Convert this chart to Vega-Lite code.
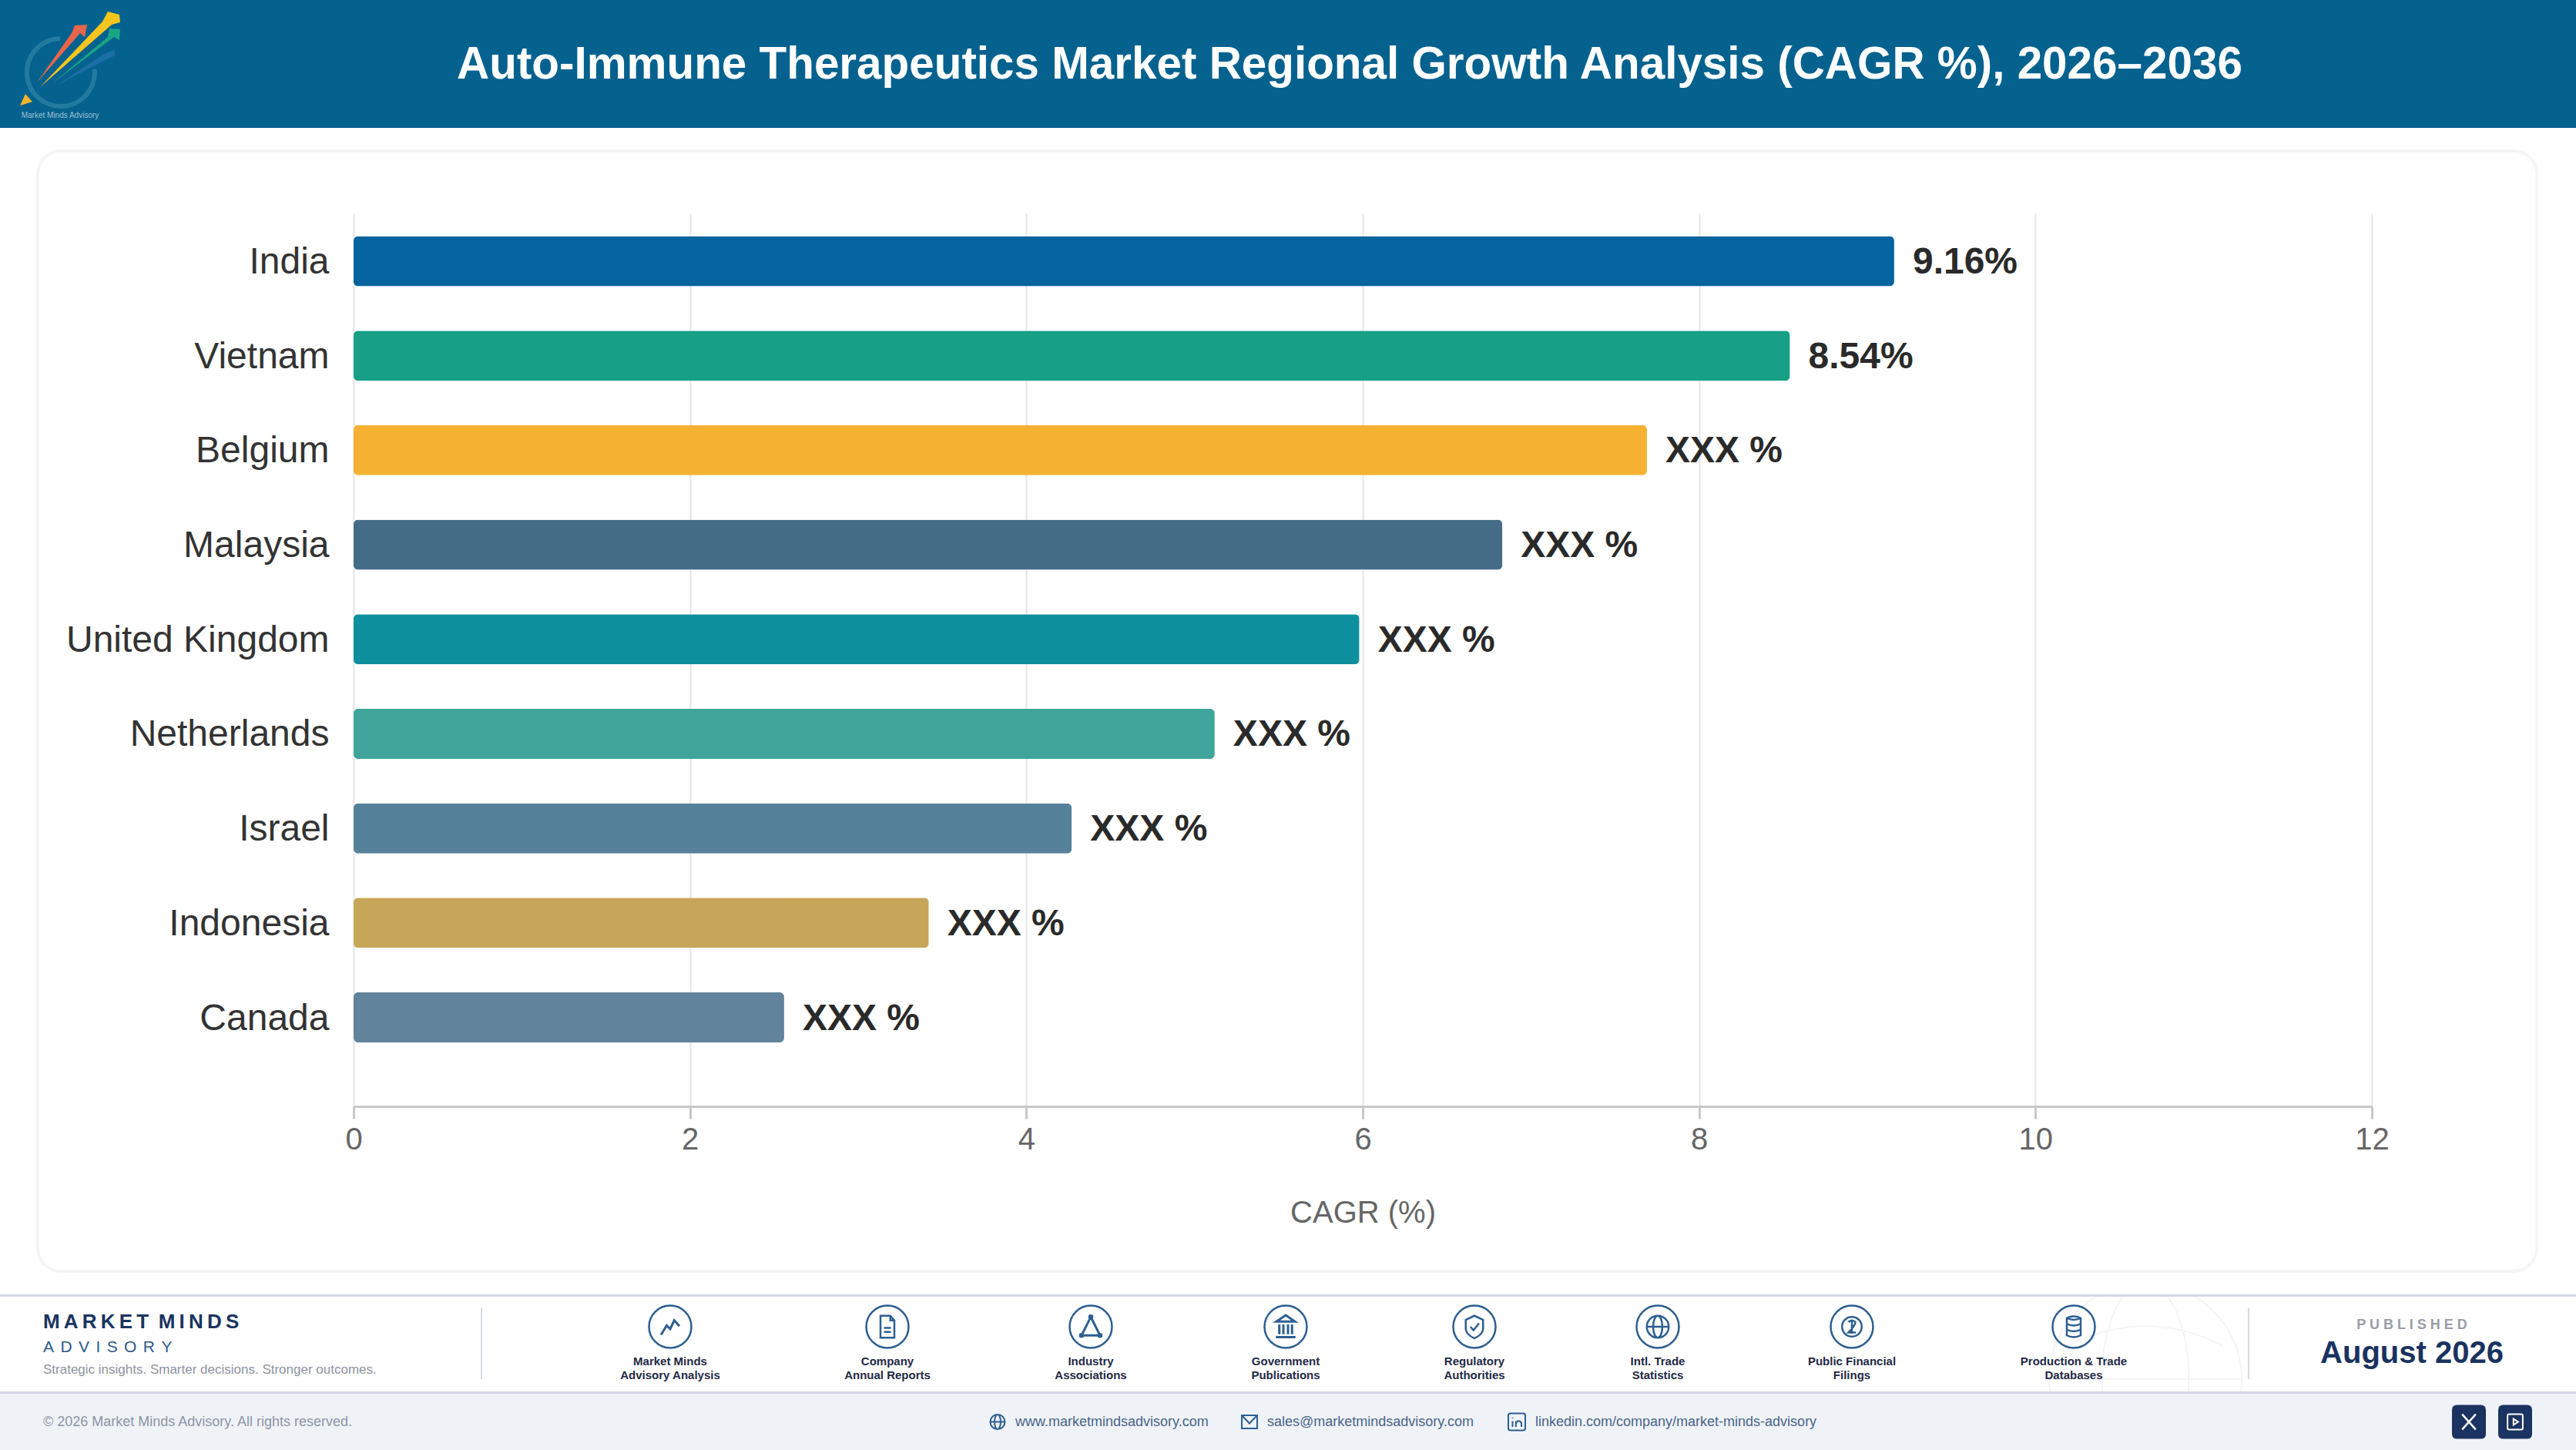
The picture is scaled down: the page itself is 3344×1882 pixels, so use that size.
{
  "$schema": "https://vega.github.io/schema/vega-lite/v6.json",
  "background": "#ffffff",
  "padding": 0,
  "spacing": 0,
  "config": {
    "view": {"stroke": null},
    "font": "Liberation Sans"
  },
  "datasets": {
    "markets": [
      {"country": "India", "cagr": 9.16, "label": "9.16%"},
      {"country": "Vietnam", "cagr": 8.54, "label": "8.54%"},
      {"country": "Belgium", "cagr": 7.69, "label": "XXX %"},
      {"country": "Malaysia", "cagr": 6.83, "label": "XXX %"},
      {"country": "United Kingdom", "cagr": 5.98, "label": "XXX %"},
      {"country": "Netherlands", "cagr": 5.12, "label": "XXX %"},
      {"country": "Israel", "cagr": 4.27, "label": "XXX %"},
      {"country": "Indonesia", "cagr": 3.42, "label": "XXX %"},
      {"country": "Canada", "cagr": 2.56, "label": "XXX %"}
    ],
    "sources": [
      {"column": 2, "line": 3, "source": "Market Minds\nAdvisory Analysis"},
      {"column": 3, "line": 3, "source": "Company\nAnnual Reports"},
      {"column": 4, "line": 3, "source": "Industry\nAssociations"},
      {"column": 5, "line": 3, "source": "Government\nPublications"},
      {"column": 6, "line": 3, "source": "Regulatory\nAuthorities"},
      {"column": 7, "line": 3, "source": "Intl. Trade\nStatistics"},
      {"column": 8, "line": 3, "source": "Public Financial\nFilings"},
      {"column": 9, "line": 3, "source": "Production & Trade\nDatabases"}
    ]
  },
  "vconcat": [
    {
      "width": 3344,
      "height": 166,
      "view": {"fill": "#05628f", "stroke": null},
      "data": {"values": [{"column": 1, "line": 0}]},
      "encoding": {
        "x": {"field": "column", "type": "quantitative", "axis": null, "scale": {"domain": [0, 1, 2], "range": [78, 92, 1752], "zero": false, "nice": false}},
        "y": {"field": "line", "type": "quantitative", "axis": null, "scale": {"domain": [0, 1], "range": [82, 150], "zero": false, "nice": false}}
      },
      "layer": [
        {"mark": {"type": "point", "filled": false, "stroke": "#2f86a6", "strokeWidth": 6, "size": 22500, "shape": "M0.41 0.107 A0.587 0.587 0 1 1 -0.187 -0.427"}},
        {"mark": {"type": "point", "filled": true, "opacity": 1, "fill": "#1c6fa6", "size": 22500, "shape": "M-0.227 0.373 L0.573 -0.16 L0.747 -0.227 L0.773 -0.133 L0.64 -0.08 Z"}},
        {"mark": {"type": "point", "filled": true, "opacity": 1, "fill": "#e8654a", "size": 22500, "shape": "M-0.587 0.333 L0.013 -0.52 L0.067 -0.653 L0.28 -0.667 L0.24 -0.453 L0.16 -0.52 Z"}},
        {"mark": {"type": "point", "filled": true, "opacity": 1, "fill": "#18a585", "size": 22500, "shape": "M-0.32 0.347 L0.64 -0.453 L0.667 -0.6 L0.853 -0.587 L0.84 -0.4 L0.747 -0.453 Z"}},
        {"mark": {"type": "point", "filled": true, "opacity": 1, "fill": "#f7c51e", "size": 22500, "shape": "M-0.533 0.413 L0.547 -0.72 L0.64 -0.893 L0.84 -0.84 L0.853 -0.707 L0.707 -0.667 Z"}},
        {"mark": {"type": "point", "filled": true, "opacity": 1, "fill": "#f7b52c", "size": 22500, "shape": "M-0.787 0.533 L-0.667 0.667 L-0.88 0.733 Z"}},
        {
          "data": {"values": [{"column": 0, "line": 1, "text": "Market Minds Advisory"}]},
          "mark": {"type": "text", "align": "center", "baseline": "middle", "fontSize": 10, "fill": "#9fc0d0"},
          "encoding": {"text": {"field": "text"}}
        },
        {
          "data": {"values": [{"column": 2, "line": 0, "text": "Auto-Immune Therapeutics Market Regional Growth Analysis (CAGR %), 2026–2036"}]},
          "mark": {"type": "text", "align": "center", "baseline": "middle", "dy": 2, "fontSize": 58.4, "fontWeight": "bold", "fill": "#ffffff"},
          "encoding": {"text": {"field": "text"}}
        }
      ]
    },
    {"width": 3344, "height": 28, "data": {"values": []}, "mark": "rule", "encoding": {}},
    {
      "spacing": 0,
      "hconcat": [
        {"width": 47, "height": 10, "data": {"values": []}, "mark": "rule", "encoding": {}},
        {
          "width": 3244,
          "height": 1454,
          "view": {"fill": "#ffffff", "stroke": "#f5f5f7", "strokeWidth": 4, "cornerRadius": 30},
          "data": {"name": "markets"},
          "resolve": {"axis": {"x": "independent"}},
          "encoding": {
            "y": {
              "field": "country",
              "type": "nominal",
              "sort": null,
              "title": null,
              "scale": {"range": [81, 1240], "paddingInner": 0.47, "paddingOuter": 0.458, "align": 0.262},
              "axis": {
                "offset": -410,
                "domain": false,
                "ticks": false,
                "tickSize": 0,
                "grid": false,
                "labelPadding": 32,
                "labelOffset": 2,
                "labelFontSize": 48,
                "labelColor": "#333333",
                "labelLimit": 600
              }
            }
          },
          "layer": [
            {
              "mark": {"type": "bar", "cornerRadius": 6},
              "encoding": {
                "x": {
                  "field": "cagr",
                  "type": "quantitative",
                  "title": "CAGR (%)",
                  "scale": {"domain": [0, 12], "range": [410, 3030], "nice": false},
                  "axis": {
                    "orient": "bottom",
                    "offset": -214,
                    "values": [0, 2, 4, 6, 8, 10, 12],
                    "format": "d",
                    "grid": false,
                    "labelFlush": false,
                    "labelOverlap": false,
                    "labelFontSize": 40,
                    "labelColor": "#666666",
                    "labelPadding": 7,
                    "tickColor": "#c8c8c8",
                    "tickSize": 16,
                    "tickWidth": 3,
                    "domainColor": "#c8c8c8",
                    "domainWidth": 3,
                    "titleFontSize": 40,
                    "titleFontWeight": "normal",
                    "titleColor": "#666666",
                    "titlePadding": 55
                  }
                },
                "color": {
                  "field": "country",
                  "type": "nominal",
                  "legend": null,
                  "scale": {
                    "domain": ["India", "Vietnam", "Belgium", "Malaysia", "United Kingdom", "Netherlands", "Israel", "Indonesia", "Canada"],
                    "range": ["#04649f", "#17a085", "#f5b131", "#456c87", "#0d8f9e", "#3fa59a", "#56819a", "#c7a559", "#61839b"]
                  }
                }
              }
            },
            {
              "mark": {"type": "text", "align": "left", "baseline": "middle", "dx": 24, "dy": 2, "fontSize": 48, "fontWeight": "bold", "fill": "#2a2a2a"},
              "encoding": {
                "x": {
                  "field": "cagr",
                  "type": "quantitative",
                  "title": null,
                  "axis": {
                    "orient": "top",
                    "values": [0, 2, 4, 6, 8, 10, 12],
                    "grid": true,
                    "gridColor": "#e6e6e6",
                    "gridWidth": 2,
                    "domain": false,
                    "ticks": false,
                    "labels": false
                  }
                },
                "text": {"field": "label"}
              }
            }
          ]
        }
      ]
    },
    {"width": 3344, "height": 28, "data": {"values": []}, "mark": "rule", "encoding": {}},
    {"width": 3344, "height": 3, "view": {"fill": "#d4d7e4", "stroke": null}, "data": {"values": []}, "mark": "rule", "encoding": {}},
    {
      "width": 3344,
      "height": 123,
      "view": {"fill": "#ffffff", "stroke": null},
      "encoding": {
        "x": {"field": "column", "type": "quantitative", "axis": null, "scale": {"domain": [0, 1, 2, 3, 4, 5, 6, 7, 8, 9, 10, 11, 12], "range": [56, 625, 870, 1152, 1416, 1669, 1914, 2152, 2404, 2692, 2785, 2919, 3131], "zero": false, "nice": false}},
        "y": {"field": "line", "type": "quantitative", "axis": null, "scale": {"domain": [0, 1, 2, 3, 4, 5, 6, 7, 8], "range": [15, 33, 37, 39, 66, 74, 84, 95, 107], "zero": false, "nice": false}}
      },
      "layer": [
        {
          "data": {"values": [{"column": 10, "line": 8}]},
          "mark": {"type": "point", "clip": true, "filled": false, "stroke": "#eef0f3", "strokeWidth": 2, "size": 62500, "shape": "M-1 0 A1 1 0 1 1 1 0 A1 1 0 1 1 -1 0 Z M-0.45 0 A0.45 1 0 1 1 0.45 0 A0.45 1 0 1 1 -0.45 0 Z M-1 0 H1 M-0.8 -0.35 Q0 -0.75 0.8 -0.35"}
        },
        {
          "data": {"values": [{"column": 1, "line": 0, "end": 8}, {"column": 11, "line": 0, "end": 8}]},
          "mark": {"type": "rule", "stroke": "#d3dae3", "strokeWidth": 2},
          "encoding": {"y2": {"field": "end"}}
        },
        {
          "data": {"values": [{"column": 0, "line": 1, "text": "M\u2009A\u2009R\u2009K\u2009E\u2009T\u2009 M\u2009I\u2009N\u2009D\u2009S"}]},
          "mark": {"type": "text", "align": "left", "baseline": "middle", "fontSize": 26, "fontWeight": "bold", "fill": "#1a3360"},
          "encoding": {"text": {"field": "text"}}
        },
        {
          "data": {"values": [{"column": 0, "line": 4, "text": "A\u2009\u2009D\u2009\u2009V\u2009\u2009I\u2009\u2009S\u2009\u2009O\u2009\u2009R\u2009\u2009Y"}]},
          "mark": {"type": "text", "align": "left", "baseline": "middle", "fontSize": 21, "fill": "#2d5a8a"},
          "encoding": {"text": {"field": "text"}}
        },
        {
          "data": {"values": [{"column": 0, "line": 7, "text": "Strategic insights. Smarter decisions. Stronger outcomes."}]},
          "mark": {"type": "text", "align": "left", "baseline": "middle", "fontSize": 17, "fill": "#8d939e"},
          "encoding": {"text": {"field": "text"}}
        },
        {
          "data": {"name": "sources"},
          "mark": {"type": "point", "filled": false, "opacity": 1, "stroke": "#2d5f91", "strokeWidth": 2.5, "size": 3025, "shape": "circle"}
        },
        {
          "data": {"values": [{"column": 2, "line": 3}]},
          "mark": {"type": "point", "filled": false, "opacity": 1, "stroke": "#2d5f91", "strokeWidth": 3, "size": 900, "shape": "M-0.8 0.7 L-0.3 -0.1 L0 0.2 L0.35 -0.55 L0.8 -0.05"}
        },
        {
          "data": {"values": [{"column": 3, "line": 3}]},
          "mark": {"type": "point", "filled": false, "opacity": 1, "stroke": "#2d5f91", "strokeWidth": 2.5, "size": 900, "shape": "M-0.6 -0.95 L0.25 -0.95 L0.6 -0.55 L0.6 0.95 L-0.6 0.95 Z M-0.3 0.1 L0.3 0.1 M-0.3 0.45 L0.3 0.45 M0.25 -0.95 L0.25 -0.55 L0.6 -0.55"}
        },
        {
          "data": {"values": [{"column": 4, "line": 3}]},
          "mark": {"type": "point", "filled": false, "opacity": 1, "stroke": "#2d5f91", "strokeWidth": 3, "size": 900, "shape": "M0 -0.85 L0.8 0.75 L-0.8 0.75 Z M-0.12 -0.85 A0.12 0.12 0 1 1 0.12 -0.85 A0.12 0.12 0 1 1 -0.12 -0.85 Z M-0.92 0.75 A0.12 0.12 0 1 1 -0.68 0.75 A0.12 0.12 0 1 1 -0.92 0.75 Z M0.68 0.75 A0.12 0.12 0 1 1 0.92 0.75 A0.12 0.12 0 1 1 0.68 0.75 Z"}
        },
        {
          "data": {"values": [{"column": 5, "line": 3}]},
          "mark": {"type": "point", "filled": false, "opacity": 1, "stroke": "#2d5f91", "strokeWidth": 3, "size": 900, "shape": "M0 -1 L0.8 -0.45 L-0.8 -0.45 Z M-0.55 -0.2 V0.65 M-0.2 -0.2 V0.65 M0.2 -0.2 V0.65 M0.55 -0.2 V0.65 M-0.85 0.9 H0.85"}
        },
        {
          "data": {"values": [{"column": 6, "line": 3}]},
          "mark": {"type": "point", "filled": false, "opacity": 1, "stroke": "#2d5f91", "strokeWidth": 2.5, "size": 900, "shape": "M0 -0.95 L0.75 -0.6 L0.75 0.2 Q0.7 0.7 0 1 Q-0.7 0.7 -0.75 0.2 L-0.75 -0.6 Z M-0.35 0 L-0.08 0.3 L0.4 -0.3"}
        },
        {
          "data": {"values": [{"column": 7, "line": 3}]},
          "mark": {"type": "point", "filled": false, "opacity": 1, "stroke": "#2d5f91", "strokeWidth": 2.5, "size": 900, "shape": "M-0.95 0 A0.95 0.95 0 1 1 0.95 0 A0.95 0.95 0 1 1 -0.95 0 Z M-0.95 0 H0.95 M-0.4 0 A0.4 0.95 0 1 1 0.4 0 A0.4 0.95 0 1 1 -0.4 0 Z"}
        },
        {
          "data": {"values": [{"column": 8, "line": 3}]},
          "mark": {"type": "point", "filled": false, "opacity": 1, "stroke": "#2d5f91", "strokeWidth": 2.5, "size": 900, "shape": "M-0.85 0 A0.85 0.85 0 1 1 0.85 0 A0.85 0.85 0 1 1 -0.85 0 Z M-0.3 -0.4 Q0 -0.7 0.3 -0.4 Q0.3 -0.1 -0.3 0.5 H0.35 M0 -0.6 V0.6"}
        },
        {
          "data": {"values": [{"column": 9, "line": 3}]},
          "mark": {"type": "point", "filled": false, "opacity": 1, "stroke": "#2d5f91", "strokeWidth": 2.5, "size": 900, "shape": "M-0.6 -0.75 Q0 -1.05 0.6 -0.75 V0.75 Q0 1.05 -0.6 0.75 Z M-0.6 -0.75 Q0 -0.45 0.6 -0.75 M-0.6 -0.25 Q0 0.05 0.6 -0.25 M-0.6 0.25 Q0 0.55 0.6 0.25"}
        },
        {
          "data": {"name": "sources"},
          "mark": {"type": "text", "align": "center", "baseline": "middle", "fontSize": 15, "fontWeight": "bold", "lineHeight": 17.5, "lineBreak": "\n", "fill": "#1f2a44"},
          "encoding": {
            "y": {"datum": 6, "type": "quantitative"},
            "text": {"field": "source"}
          }
        },
        {
          "data": {"values": [{"column": 12, "line": 2, "text": "P U B L I S H E D"}]},
          "mark": {"type": "text", "align": "center", "baseline": "middle", "fontSize": 18, "fontWeight": "bold", "fill": "#9a9da6"},
          "encoding": {"text": {"field": "text"}}
        },
        {
          "data": {"values": [{"column": 12, "line": 5, "text": "August 2026"}]},
          "mark": {"type": "text", "align": "center", "baseline": "middle", "fontSize": 40, "fontWeight": "bold", "fill": "#1a3360"},
          "encoding": {"text": {"field": "text"}}
        }
      ]
    },
    {"width": 3344, "height": 3, "view": {"fill": "#d4d7e4", "stroke": null}, "data": {"values": []}, "mark": "rule", "encoding": {}},
    {
      "width": 3344,
      "height": 73,
      "view": {"fill": "#eff3f8", "stroke": null},
      "encoding": {
        "x": {"field": "column", "type": "quantitative", "axis": null, "scale": {"domain": [0, 1, 2, 3, 4, 5, 6, 7, 8], "range": [56, 1295, 1318, 1622, 1645, 1969, 1993, 3205, 3265], "zero": false, "nice": false}}
      },
      "layer": [
        {
          "data": {"values": [{"column": 0, "text": "© 2026 Market Minds Advisory. All rights reserved."}]},
          "mark": {"type": "text", "align": "left", "baseline": "middle", "fontSize": 18, "fill": "#8d95a3"},
          "encoding": {"text": {"field": "text"}}
        },
        {
          "data": {"values": [{"column": 2, "text": "www.marketmindsadvisory.com"}, {"column": 4, "text": "sales@marketmindsadvisory.com"}, {"column": 6, "text": "linkedin.com/company/market-minds-advisory"}]},
          "mark": {"type": "text", "align": "left", "baseline": "middle", "fontSize": 18, "fill": "#4a6488"},
          "encoding": {"text": {"field": "text"}}
        },
        {
          "data": {"values": [{"column": 1}]},
          "mark": {"type": "point", "filled": false, "opacity": 1, "stroke": "#2d5f91", "strokeWidth": 2, "size": 400, "shape": "M-0.95 0 A0.95 0.95 0 1 1 0.95 0 A0.95 0.95 0 1 1 -0.95 0 Z M-0.95 0 H0.95 M-0.4 0 A0.4 0.95 0 1 1 0.4 0 A0.4 0.95 0 1 1 -0.4 0 Z"}
        },
        {
          "data": {"values": [{"column": 3}]},
          "mark": {"type": "point", "filled": false, "opacity": 1, "stroke": "#2d5f91", "strokeWidth": 2, "size": 400, "shape": "M-1 -0.85 H1 V0.85 H-1 Z M-1 -0.85 L0 0.2 L1 -0.85"}
        },
        {
          "data": {"values": [{"column": 5}]},
          "mark": {"type": "point", "filled": false, "opacity": 1, "stroke": "#2d5f91", "strokeWidth": 2, "size": 484, "shape": "M-0.75 -1 H0.75 Q1 -1 1 -0.75 V0.75 Q1 1 0.75 1 H-0.75 Q-1 1 -1 0.75 V-0.75 Q-1 -1 -0.75 -1 Z M-0.5 -0.1 V0.6 M-0.5 -0.5 V-0.4 M-0.1 0.6 V-0.1 M-0.1 0.2 Q0.05 -0.15 0.3 -0.1 Q0.55 -0.05 0.55 0.25 V0.6"}
        },
        {
          "data": {"values": [{"column": 7}, {"column": 8}]},
          "mark": {"type": "point", "filled": true, "opacity": 1, "fill": "#1a3360", "size": 1936, "shape": "M-0.7 -1 H0.7 Q1 -1 1 -0.7 V0.7 Q1 1 0.7 1 H-0.7 Q-1 1 -1 0.7 V-0.7 Q-1 -1 -0.7 -1 Z"}
        },
        {
          "data": {"values": [{"column": 7}]},
          "mark": {"type": "point", "filled": false, "opacity": 1, "stroke": "#ffffff", "strokeWidth": 2.5, "size": 484, "shape": "M-0.8 -0.9 L0.8 0.9 M0.8 -0.9 L-0.8 0.9"}
        },
        {
          "data": {"values": [{"column": 8}]},
          "mark": {"type": "point", "filled": false, "opacity": 1, "stroke": "#ffffff", "strokeWidth": 2, "size": 484, "shape": "M-0.7 -0.9 H0.7 Q0.9 -0.9 0.9 -0.7 V0.7 Q0.9 0.9 0.7 0.9 H-0.7 Q-0.9 0.9 -0.9 0.7 V-0.7 Q-0.9 -0.9 -0.7 -0.9 Z M-0.2 -0.35 L0.35 0 L-0.2 0.35 Z"}
        }
      ]
    }
  ]
}
